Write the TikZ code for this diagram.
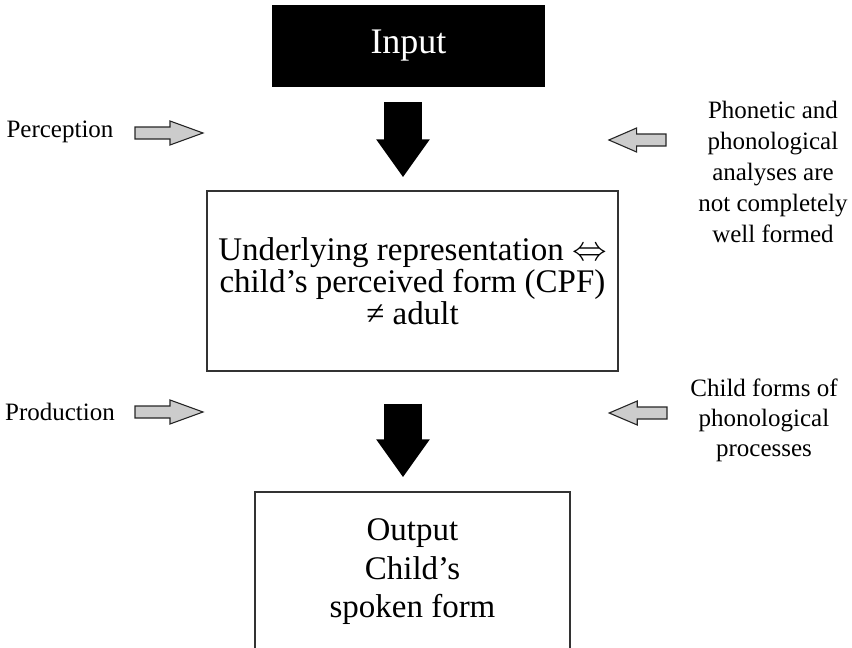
\documentclass[tikz,border=0pt]{standalone}
\usepackage{fontspec}
\setmainfont{Liberation Serif}
\usetikzlibrary{arrows.meta}

\begin{document}
\begin{tikzpicture}[x=0.5pt,y=-0.5pt,>={Triangle[width=25.5pt,length=19pt]},
  box/.style={draw=black!80,line width=0.7pt,align=center,font=\fontsize{16.5}{15.9}\selectfont},
  flow/.style={->,line width=19pt,shorten <=7.5pt},
  side/.style={align=center,font=\fontsize{12.5}{15.5}\selectfont},
  pics/garrow/.style={code={\draw[fill=gray!40,draw=black!85,line width=0.55pt] (0,-6) -- (35,-6) -- (35,-12) -- (68,0) -- (35,12) -- (35,6) -- (0,6) -- cycle;}}]
\useasboundingbox (0,0) rectangle (852,648);
\node[fill=black,text=white,minimum width=136.5pt,minimum height=41pt,font=\fontsize{18}{21}\selectfont] (in) at (408.5,46) {Input};
\node[box,minimum width=205.5pt,minimum height=90pt] (urep) at (412.5,281) {Underlying representation $\Leftrightarrow$\\child's perceived form (CPF)\\≠ adult};
\node[box,minimum width=157.5pt,minimum height=80pt,font=\fontsize{16.5}{19.25}\selectfont] (out) at (412.5,572) {Output\\Child's\\spoken form};
\node[side] (perc) at (60,132) {Perception};
\node[side] (prod) at (60,412) {Production};
\node[side] (phon) at (773,172) {Phonetic and\\phonological\\analyses are\\not completely\\well formed};
\node[side,font=\fontsize{12.5}{15}\selectfont] (chld) at (764,420) {Child forms of\\phonological\\processes};
\coordinate (ax) at (403,0);
\draw[flow,shorten >=6.5pt] (in.south -| ax) -- (urep.north -| ax);
\draw[flow,shorten <=16pt,shorten >=7pt] (urep.south -| ax) -- (out.north -| ax);
\pic at (135,133) {garrow};
\pic at (135,412) {garrow};
\pic[xscale=-0.84] at (666,140) {garrow};
\pic[xscale=-0.85] at (667,413) {garrow};
\end{tikzpicture}
\end{document}
